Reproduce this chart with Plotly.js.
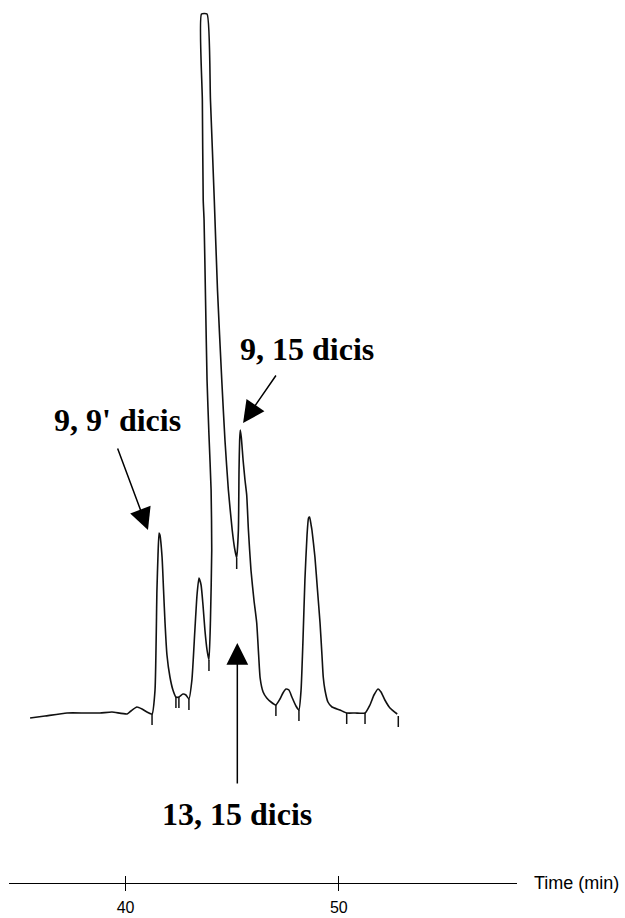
<!DOCTYPE html>
<html>
<head>
<meta charset="utf-8">
<script src="https://cdn.plot.ly/plotly-3.0.1.min.js"></script>
<style>
html,body{margin:0;padding:0;background:#fff;}
#chart{width:625px;height:918px;}
</style>
</head>
<body>
<div id="chart"></div>
<script>
// Chromatogram trace: retention time (min) and detector response (arbitrary units)
const timeMin = [35.52,36.22,37.25,38.10,38.80,39.36,40.07,40.25,40.53,40.77,41.00,41.24,
  41.38,41.47,41.52,41.57,41.61,41.71,41.78,41.85,41.94,42.08,42.22,42.36,42.50,42.69,42.83,42.97,
  43.11,43.25,43.35,43.44,43.54,43.63,43.72,43.82,43.91,
  43.98,44.04,44.01,43.91,43.82,43.75,43.68,43.64,43.60,43.56,43.82,43.98,44.16,44.31,44.51,44.66,44.82,45.00,45.11,45.21,
  45.29,45.32,45.35,45.38,45.43,45.51,45.60,45.68,45.76,45.88,46.02,46.15,46.24,46.31,46.45,46.62,46.82,47.05,
  47.24,47.38,47.52,47.66,47.80,47.99,48.13,
  48.23,48.32,48.41,48.51,48.58,48.63,48.70,48.74,48.88,49.00,49.12,49.21,49.27,49.35,49.49,49.68,50.05,50.37,
  50.76,51.23,51.46,51.65,51.84,51.98,52.16,52.40,52.74];
const response = [-3,-1,2,2,2,3,1,4,8,6,3,1,
  25,125,160,182,180,158,125,92,60,38,25,18,18,21,20,16,
  35,85,120,137,130,110,85,65,55,
  95,165,225,280,335,415,495,515,615,701,701,615,515,425,335,275,225,185,167,157,
  185,245,275,285,277,255,235,220,185,145,115,92,60,37,23,17,13,10,
  16,22,26,25,18,9,5,
  25,75,135,180,197,198,190,185,158,125,92,60,38,25,13,8,5,2,
  2,2,10,20,26,23,15,7,1];

// Integration markers (peak-start/end ticks): time and signal level at the mark
const markTimes = [41.24,42.36,42.50,42.97,43.91,45.21,47.05,48.13,50.37,51.23,52.79];
const markLevels = [1,18,18,16,55,157,10,5,2,2,-1];

// Axis ticks
const tickVals = [40,50];
const tickText = ['40','50'];

// Peak labels
const labelText = ['9, 9\' dicis','9, 15 dicis','13, 15 dicis'];
const labelX = [39.60,48.49,45.22];
const labelY = [295,366,-99];
const arrowTipX = [41.05,45.51,45.24];
const arrowTipY = [185,292,72];
const arrowTailX = [39.60,47.10,45.24];
const arrowTailY = [268,341,-70];

const MARK_LEN = 11;
const mx = [], my = [];
markTimes.forEach((t,i)=>{ mx.push(t,t,null); my.push(markLevels[i], markLevels[i]-MARK_LEN, null); });

const traces = [
  {x: timeMin, y: response, mode:'lines', line:{color:'#111', width:1.6, shape:'spline', smoothing:0.5}, hoverinfo:'skip', showlegend:false},
  {x: mx, y: my, mode:'lines', line:{color:'#111', width:1.5}, hoverinfo:'skip', showlegend:false},
  {x:[null], y:[null], xaxis:'x2', yaxis:'y', mode:'lines', showlegend:false, hoverinfo:'skip'}
];

const annotations = [];
labelText.forEach((txt,i)=>{
  annotations.push({x: labelX[i], y: labelY[i], xref:'x', yref:'y', text: txt, showarrow:false,
    font:{family:'Liberation Serif, Times New Roman, serif', size:32, color:'#000', weight:'bold'},
    xanchor:'center', yanchor:'middle'});
  annotations.push({x: arrowTipX[i], y: arrowTipY[i], xref:'x', yref:'y', ax: arrowTailX[i], ay: arrowTailY[i],
    axref:'x', ayref:'y', text:'', showarrow:true, arrowhead:2, arrowsize:2.9, arrowwidth:1.5, arrowcolor:'#000', standoff:0});
});
annotations.push({x:1, y:0, xref:'paper', yref:'paper', xanchor:'left', yanchor:'middle', xshift:15,
  text:'Time (min)', showarrow:false, font:{family:'Liberation Sans, Arial, sans-serif', size:18, color:'#000'}});

const layout = {
  width:625, height:918,
  margin:{l:9, r:108, t:10, b:35},
  paper_bgcolor:'#fff', plot_bgcolor:'#fff',
  showlegend:false,
  xaxis:{range:[34.531,58.358], showgrid:false, zeroline:false, showline:true, linecolor:'#000', linewidth:1,
    ticks:'inside', ticklen:7, tickwidth:1, tickcolor:'#000', tickmode:'array', tickvals:tickVals, ticktext:tickText,
    ticklabelstandoff:10,
    tickfont:{family:'Liberation Sans, Arial, sans-serif', size:16, color:'#000'}, fixedrange:true},
  xaxis2:{overlaying:'x', matches:'x', anchor:'y', side:'bottom', showgrid:false, zeroline:false, showline:false,
    ticks:'outside', ticklen:7, tickwidth:1, tickcolor:'#000', tickmode:'array', tickvals:tickVals,
    showticklabels:false},
  yaxis:{range:[-168,705], visible:false, fixedrange:true},
  annotations: annotations
};

Plotly.newPlot('chart', traces, layout, {staticPlot:true, displayModeBar:false});
</script>
</body>
</html>
